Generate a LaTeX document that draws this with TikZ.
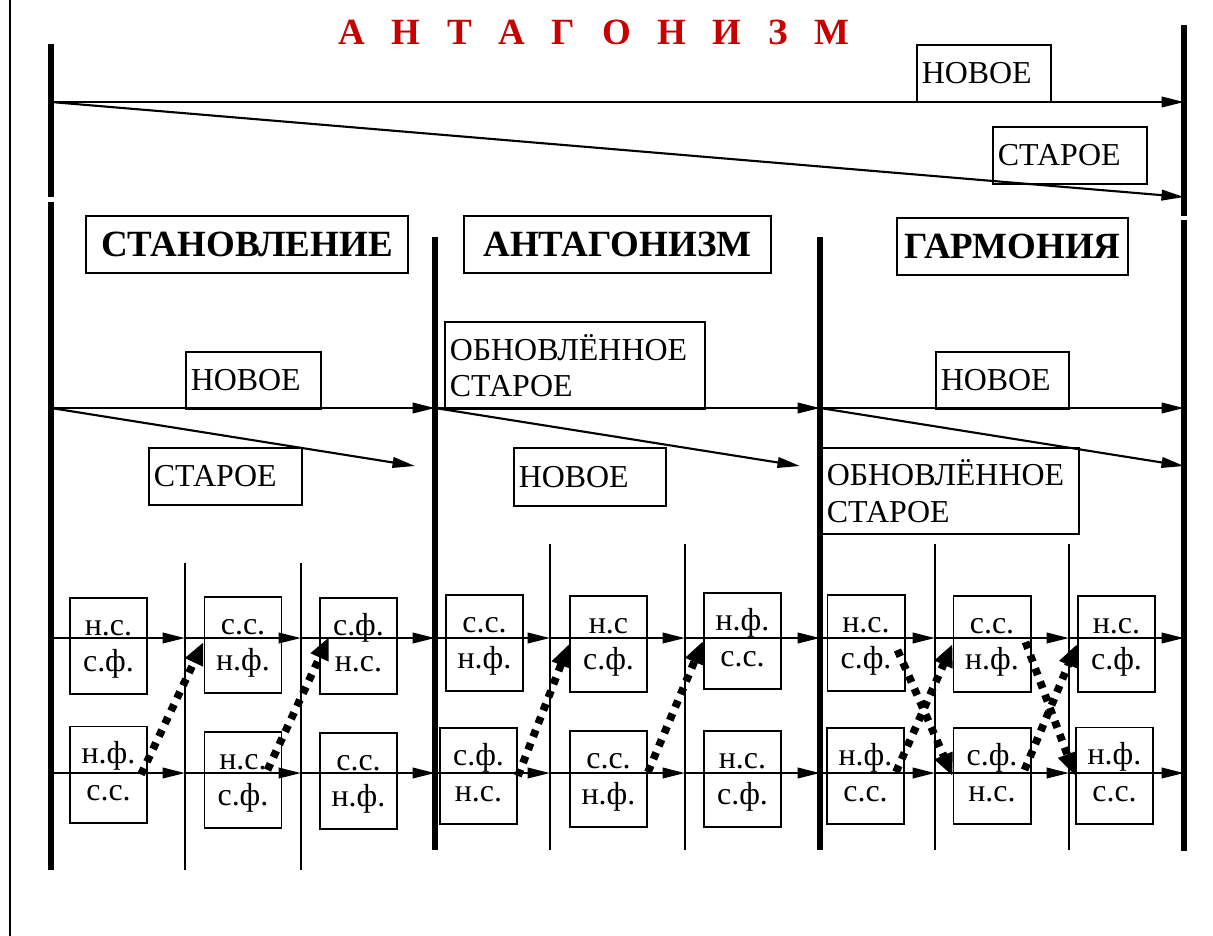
\documentclass[tikz,border=0pt]{standalone}
\usepackage{fontspec}
\setmainfont{Liberation Serif}
\usetikzlibrary{arrows.meta,calc}

\definecolor{titlered}{RGB}{200,0,0}
\newcommand\lblfont{\fontsize{22.7}{26}\selectfont}
\newcommand\ttlfont{\fontsize{26.3}{30}\selectfont\bfseries}

\tikzset{
  arr/.style={line width=1.5pt, -{Triangle[length=16pt,width=7.5pt]}},
  dotarr/.style={line width=5.5pt, dash pattern=on 5pt off 5pt, -{Triangle[length=16pt,width=13pt]}},
  major/.style={line width=3.9pt},
  minor/.style={line width=1.8pt},
  lbl/.style={draw, line width=1.4pt, anchor=north west, align=left, inner xsep=0.12cm, inner ysep=0pt, font=\lblfont},
  ttl/.style={draw, line width=1.4pt, anchor=north west, inner sep=0pt, font=\ttlfont},
  sbox/.style={draw, line width=1.4pt, minimum width=1.925cm, minimum height=2.4cm, inner sep=0pt, align=center, font=\lblfont}
}

\begin{document}
\begin{tikzpicture}[x=0.025cm, y=-0.025cm]
  \useasboundingbox (0,0) rectangle (1213,936);

  % Рамка слева
  \draw[line width=1.3pt] (10,0) -- (10,936);

  % Заголовок
  \node[text=titlered, font=\ttlfont] (title) at (594,32) {\spaceskip=0.72em\relax А Н Т А Г О Н И З М};

  % Общая шкала
  \draw[major] (51,44) -- (51,197);
  \draw[major] (1184,25) -- (1184,216);
  \coordinate (t0) at (51,102);
  \coordinate (t1) at (1184,102);
  \coordinate (t2) at (1184,197);
  \draw[arr] (t0) -- (t1);
  \draw[arr] (t0) -- (t2);
  \node[lbl, text width=3.11cm, minimum height=1.425cm] (newtop) at (916,44) {НОВОЕ};
  \node[lbl, text width=3.61cm, minimum height=1.425cm] (oldtop) at (992,126) {СТАРОЕ};

  % Границы этапов
  \draw[major] (51,202) -- (51,870);
  \draw[major] (1184,220) -- (1184,851);
  \draw[major] (435,237) -- (435,850);
  \draw[major] (820,237) -- (820,850);

  % Этапы
  \node[ttl, minimum width=8.05cm, minimum height=1.425cm] (stage1) at (85,215) {СТАНОВЛЕНИЕ};
  \node[ttl, minimum width=7.675cm, minimum height=1.425cm] (stage2) at (463,215) {АНТАГОНИЗМ};
  \node[ttl, minimum width=5.775cm, minimum height=1.425cm] (stage3) at (896,217) {ГАРМОНИЯ};

  % Стрелки этапов
  \coordinate (m0) at (51,408);
  \coordinate (m1) at (435,408);
  \coordinate (m2) at (820,408);
  \coordinate (m3) at (1184,408);
  \coordinate (s1) at (415,466);
  \coordinate (s2) at (800,466);
  \coordinate (s3) at (1184,466);
  \draw[arr] (m0) -- (m1);
  \draw[arr] (m0) -- (s1);
  \draw[arr] (m1) -- (m2);
  \draw[arr] (m1) -- (s2);
  \draw[arr] (m2) -- (m3);
  \draw[arr] (m2) -- (s3);

  % Подписи этапов
  \node[lbl, text width=3.135cm, minimum height=1.425cm] (new1) at (185,351) {НОВОЕ};
  \node[lbl, text width=3.585cm, minimum height=1.425cm] (old1) at (148,447) {СТАРОЕ};
  \node[lbl, text width=6.26cm, minimum height=2.175cm] (renew2) at (444,321) {ОБНОВЛЁННОЕ\\СТАРОЕ};
  \node[lbl, text width=3.56cm, minimum height=1.45cm] (new2) at (513,447) {НОВОЕ};
  \node[lbl, text width=3.085cm, minimum height=1.425cm] (new3) at (935,351) {НОВОЕ};
  \node[lbl, text width=6.185cm, minimum height=2.15cm] (renew3) at (821,447) {ОБНОВЛЁННОЕ\\СТАРОЕ};

  % Шаги внутри этапов
  \draw[minor] (185,563) -- (185,870);
  \draw[minor] (301,563) -- (301,870);
  \draw[minor] (550,544) -- (550,850);
  \draw[minor] (685,544) -- (685,850);
  \draw[minor] (935,544) -- (935,850);
  \draw[minor] (1069,544) -- (1069,850);

  % Точки на рядах
  \coordinate (a0) at (51,638);   \coordinate (b0) at (51,773);
  \coordinate (a1) at (185,638);  \coordinate (b1) at (185,773);
  \coordinate (a2) at (301,638);  \coordinate (b2) at (301,773);
  \coordinate (a3) at (435,638);  \coordinate (b3) at (435,773);
  \coordinate (a4) at (550,638);  \coordinate (b4) at (550,773);
  \coordinate (a5) at (685,638);  \coordinate (b5) at (685,773);
  \coordinate (a6) at (820,638);  \coordinate (b6) at (820,773);
  \coordinate (a7) at (935,638);  \coordinate (b7) at (935,773);
  \coordinate (a8) at (1069,638); \coordinate (b8) at (1069,773);
  \coordinate (a9) at (1184,638); \coordinate (b9) at (1184,773);

  % Ряды
  \draw[arr] (a0) -- (a1); \draw[arr] (b0) -- (b1);
  \draw[arr] (a1) -- (a2); \draw[arr] (b1) -- (b2);
  \draw[arr] (a2) -- (a3); \draw[arr] (b2) -- (b3);
  \draw[arr] (a3) -- (a4); \draw[arr] (b3) -- (b4);
  \draw[arr] (a4) -- (a5); \draw[arr] (b4) -- (b5);
  \draw[arr] (a5) -- (a6); \draw[arr] (b5) -- (b6);
  \draw[arr] (a6) -- (a7); \draw[arr] (b6) -- (b7);
  \draw[arr] (a7) -- (a8); \draw[arr] (b7) -- (b8);
  \draw[arr] (a8) -- (a9); \draw[arr] (b8) -- (b9);

  % Становление
  \node[sbox] (hi11) at (108.5,646) {\strut н.с.\\\strut с.ф.};
  \node[sbox] (lo11) at (108.5,774.5) {\strut н.ф.\\\strut с.с.};
  \node[sbox] (hi12) at (243,645) {\strut с.с.\\\strut н.ф.};
  \node[sbox] (lo12) at (243,780) {\strut н.с.\\\strut с.ф.};
  \node[sbox] (hi13) at (358.5,646) {\strut с.ф.\\\strut н.с.};
  \node[sbox] (lo13) at (358.5,781) {\strut с.с.\\\strut н.ф.};

  % Антагонизм
  \node[sbox] (hi21) at (484.5,643) {\strut с.с.\\\strut н.ф.};
  \node[sbox] (lo21) at (478.5,776) {\strut с.ф.\\\strut н.с.};
  \node[sbox] (hi22) at (608.5,644) {\strut н.с\\\strut с.ф.};
  \node[sbox] (lo22) at (608.5,779) {\strut с.с.\\\strut н.ф.};
  \node[sbox] (hi23) at (742.5,641) {\strut н.ф.\\\strut с.с.};
  \node[sbox] (lo23) at (742.5,779) {\strut н.с.\\\strut с.ф.};

  % Гармония
  \node[sbox] (hi31) at (866,643) {\strut н.с.\\\strut с.ф.};
  \node[sbox] (lo31) at (865.5,776) {\strut н.ф.\\\strut с.с.};
  \node[sbox] (hi32) at (992,644) {\strut с.с.\\\strut н.ф.};
  \node[sbox] (lo32) at (992,776) {\strut с.ф.\\\strut н.с.};
  \node[sbox] (hi33) at (1116.5,644) {\strut н.с.\\\strut с.ф.};
  \node[sbox] (lo33) at (1114.5,775.5) {\strut н.ф.\\\strut с.с.};

  % Переходы
  \draw[dotarr] ($(lo11.east)+(-7,0)$) -- ($(hi12.west)+(0,-3)$);
  \draw[dotarr] ($(lo12.east)+(-15,-10)$) -- ($(hi13.west)+(10,-9)$);
  \draw[dotarr] (lo21.east) -- (hi22.west);
  \draw[dotarr] ($(lo22.east)+(0,-7)$) -- (hi23.west);
  \draw[dotarr] ($(lo31.east)+(-9,-4)$) -- (hi32.west);
  \draw[dotarr] ($(hi31.east)+(-8,7)$) -- (lo32.west);
  \draw[dotarr] ($(lo32.east)+(-7,-6)$) -- (hi33.west);
  \draw[dotarr] ($(hi32.east)+(-6,-2)$) -- (lo33.west);
\end{tikzpicture}
\end{document}
